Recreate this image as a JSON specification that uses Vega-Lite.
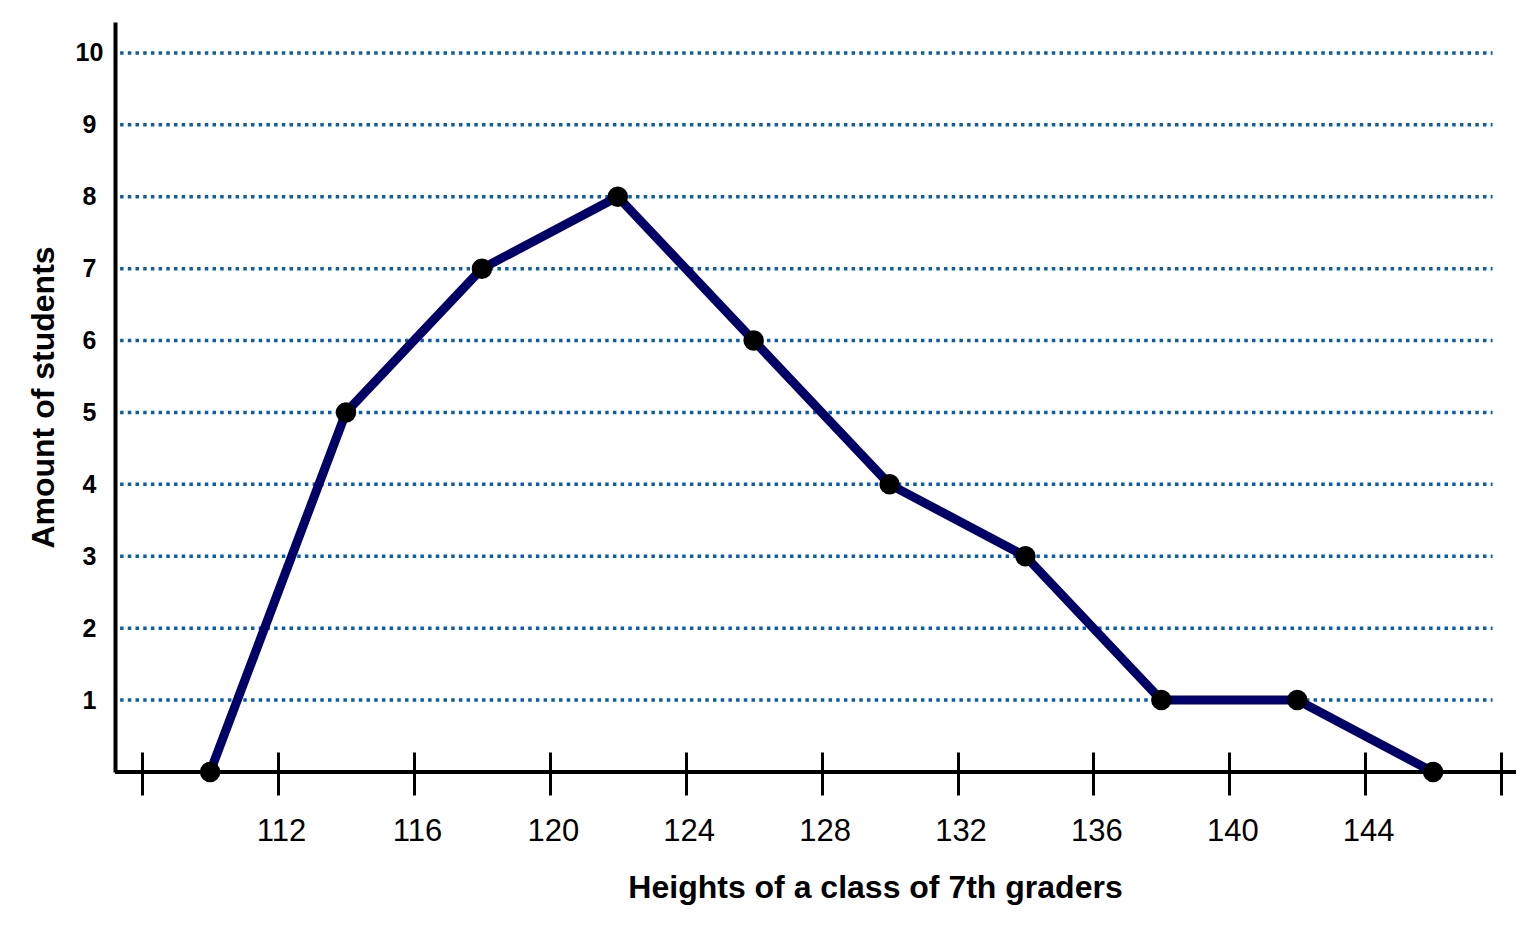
{
  "$schema": "https://vega.github.io/schema/vega-lite/v6.json",
  "autosize": {"type": "none"},
  "width": 1401,
  "height": 750,
  "padding": {"left": 115, "top": 22, "right": 24, "bottom": 155},
  "background": "white",
  "config": {
    "view": {"stroke": null},
    "font": "Liberation Sans"
  },
  "datasets": {
    "heights": [
      {"height": 110, "students": 0},
      {"height": 114, "students": 5},
      {"height": 118, "students": 7},
      {"height": 122, "students": 8},
      {"height": 126, "students": 6},
      {"height": 130, "students": 4},
      {"height": 134, "students": 3},
      {"height": 138, "students": 1},
      {"height": 142, "students": 1},
      {"height": 146, "students": 0}
    ],
    "levels": [
      {"level": 1}, {"level": 2}, {"level": 3}, {"level": 4}, {"level": 5},
      {"level": 6}, {"level": 7}, {"level": 8}, {"level": 9}, {"level": 10}
    ]
  },
  "layer": [
    {
      "data": {"name": "levels"},
      "mark": {"type": "rule", "stroke": "#0a5fa6", "strokeWidth": 3.5, "strokeDash": [3.5, 4.2]},
      "encoding": {
        "y": {
          "field": "level", "type": "quantitative",
          "scale": {"domain": [0, 10.43], "nice": false, "zero": false},
          "axis": {
            "title": "Amount of students",
            "values": [1, 2, 3, 4, 5, 6, 7, 8, 9, 10],
            "format": "d",
            "domain": true,
            "domainColor": "black",
            "domainWidth": 4,
            "ticks": false,
            "grid": false,
            "labelFontSize": 25,
            "labelFontWeight": "bold",
            "labelColor": "black",
            "labelAlign": "center",
            "labelBaseline": "middle",
            "labelPadding": 26,
            "titleFontSize": 32,
            "titleFontWeight": "bold",
            "titleColor": "black",
            "titleAngle": -90,
            "titleX": -72,
            "titleY": 375,
            "titleBaseline": "middle",
            "titleAlign": "center"
          }
        },
        "x": {"datum": 107.35, "type": "quantitative", "scale": {"domain": [107.2, 148.44], "nice": false, "zero": false}},
        "x2": {"datum": 147.75}
      }
    },
    {
      "data": {"name": "heights"},
      "mark": {"type": "rule", "stroke": "black", "strokeWidth": 4},
      "encoding": {
        "y": {"datum": 0, "type": "quantitative"}
      }
    },
    {
      "data": {"name": "heights"},
      "mark": {"type": "line", "stroke": "#000066", "strokeWidth": 9, "strokeJoin": "round"},
      "encoding": {
        "x": {
          "field": "height", "type": "quantitative",
          "axis": {
            "title": "Heights of a class of 7th graders",
            "values": [108, 112, 116, 120, 124, 128, 132, 136, 140, 144, 148],
            "labelExpr": "datum.value == 108 || datum.value == 148 ? '' : datum.label",
            "offset": -20,
            "domain": false,
            "grid": false,
            "ticks": true,
            "tickSize": 43,
            "tickWidth": 3,
            "tickColor": "black",
            "labelFontSize": 31,
            "labelColor": "black",
            "labelPadding": 21,
            "labelOffset": 3,
            "labelFlush": false,
            "labelOverlap": false,
            "titleFontSize": 32,
            "titleFontWeight": "bold",
            "titleColor": "black",
            "titleX": 760,
            "titleY": 145,
            "titleBaseline": "alphabetic",
            "titleAlign": "center"
          }
        },
        "y": {"field": "students", "type": "quantitative", "title": "Amount of students"}
      }
    },
    {
      "data": {"name": "heights"},
      "mark": {"type": "point", "filled": true, "fill": "black", "opacity": 1, "size": 420, "shape": "circle"},
      "encoding": {
        "x": {"field": "height", "type": "quantitative"},
        "y": {"field": "students", "type": "quantitative"}
      }
    }
  ]
}
